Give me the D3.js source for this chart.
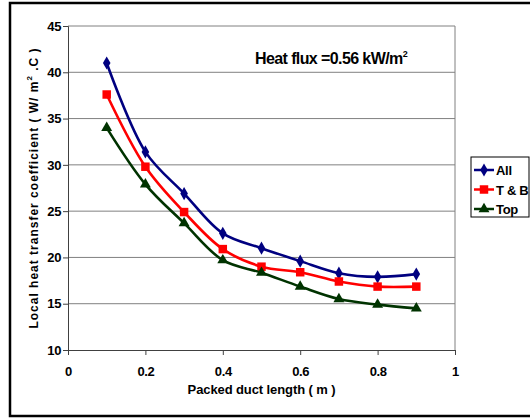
<!doctype html>
<html>
<head>
<meta charset="utf-8">
<title>Local heat transfer coefficient</title>
<script src="https://cdn.jsdelivr.net/npm/d3@7"></script>
<style>
  html, body { margin: 0; padding: 0; background: #fff; }
  svg { display: block; font-family: "Liberation Sans", Arial, sans-serif; font-weight: bold; }
</style>
</head>
<body>
<div id="chart"></div>
<script>
// data
var lengths = [0.1, 0.2, 0.3, 0.4, 0.5, 0.6, 0.7, 0.8, 0.9]
var allValues = [41.0, 31.4, 26.9, 22.6, 21.0, 19.6, 18.3, 17.9, 18.2]
var tbValues = [37.6, 29.8, 24.9, 20.9, 19.0, 18.4, 17.4, 16.85, 16.85]
var topValues = [34.0, 27.9, 23.7, 19.7, 18.35, 16.85, 15.5, 14.9, 14.5]
var xTicks = [0, 0.2, 0.4, 0.6, 0.8, 1]
var yTicks = [10, 15, 20, 25, 30, 35, 40, 45]

var series = [
  { name: "All", values: allValues, color: "#000080", symbol: d3.symbolDiamond, size: 50 },
  { name: "T & B", values: tbValues, color: "#ff0000", symbol: d3.symbolSquare, size: 72 },
  { name: "Top", values: topValues, color: "#003300", symbol: d3.symbolTriangle, size: 52 }
]

var W = 530, H = 419
var svg = d3.select("#chart").append("svg").attr("width", W).attr("height", H)

// outer frame
svg.append("rect")
  .attr("x", 10).attr("y", 3).attr("width", 530).attr("height", 413)
  .attr("fill", "none").attr("stroke", "#000").attr("stroke-width", 2.5)

var plotL = 68, plotR = 455, plotT = 26, plotB = 350
var x = d3.scaleLinear().domain([0, 1]).range([plotL, plotR])
var y = d3.scaleLinear().domain([10, 45]).range([plotB, plotT])

// grid
svg.append("g").selectAll("line").data(yTicks.slice(1)).join("line")
  .attr("x1", plotL).attr("x2", plotR)
  .attr("y1", d => y(d)).attr("y2", d => y(d))
  .attr("stroke", "#808080").attr("stroke-width", 1)
svg.append("line")
  .attr("x1", plotR).attr("x2", plotR).attr("y1", plotT).attr("y2", plotB)
  .attr("stroke", "#808080")

// axes
var xAxis = svg.append("g").attr("transform", "translate(0," + plotB + ")")
  .call(d3.axisBottom(x).tickValues(xTicks).tickSize(5).tickPadding(12).tickFormat(d3.format("")))
var yAxis = svg.append("g").attr("transform", "translate(" + plotL + ",0)")
  .call(d3.axisLeft(y).tickValues(yTicks).tickSize(5).tickPadding(2))
;[xAxis, yAxis].forEach(function (a) {
  a.select(".domain").attr("stroke", "#404040")
  a.selectAll(".tick line").attr("stroke", "#404040")
  a.selectAll("text").attr("font-size", 13).attr("font-weight", "bold")
    .attr("letter-spacing", -0.4)
    .attr("font-family", "Liberation Sans, Arial, sans-serif").attr("fill", "#000")
})

// lines + markers
var line = d3.line().x((d, i) => x(lengths[i])).y(d => y(d)).curve(d3.curveCatmullRom.alpha(0.5))
series.forEach(function (s) {
  svg.append("path").datum(s.values)
    .attr("d", line).attr("fill", "none")
    .attr("stroke", s.color).attr("stroke-width", 2.6)
  svg.append("g").selectAll("path").data(s.values).join("path")
    .attr("transform", (d, i) => "translate(" + x(lengths[i]) + "," + y(d) + ")")
    .attr("d", d3.symbol().type(s.symbol).size(s.size))
    .attr("fill", s.color)
})

// annotation
var note = svg.append("text").attr("x", 255).attr("y", 64).attr("font-size", 16)
  .attr("letter-spacing", -0.6)
note.append("tspan").text("Heat flux =0.56 kW/m")
note.append("tspan").attr("dy", -7).attr("font-size", 9).text("2")

// axis titles
svg.append("text").attr("x", (plotL + plotR) / 2).attr("y", 394)
  .attr("text-anchor", "middle").attr("font-size", 13)
  .attr("letter-spacing", -0.1)
  .text("Packed duct length ( m )")

var yt = svg.append("text")
  .attr("transform", "translate(38," + ((plotT + plotB) / 2) + ") rotate(-90)")
  .attr("text-anchor", "middle").attr("font-size", 12).attr("letter-spacing", 1)
yt.append("tspan").text("Local heat transfer coefficient ( W/ m")
yt.append("tspan").attr("dy", -6).attr("font-size", 8).text("2")
yt.append("tspan").attr("dy", 6).text(" .C )")

// legend
var lg = svg.append("g").attr("transform", "translate(471,157)")
lg.append("rect").attr("width", 58).attr("height", 60)
  .attr("fill", "#fff").attr("stroke", "#000").attr("stroke-width", 1)
series.forEach(function (s, i) {
  var cy = 13 + i * 19.5
  lg.append("line").attr("x1", 3).attr("x2", 23).attr("y1", cy).attr("y2", cy)
    .attr("stroke", s.color).attr("stroke-width", 2.5)
  lg.append("path").attr("transform", "translate(13," + cy + ")")
    .attr("d", d3.symbol().type(s.symbol).size(s.size)).attr("fill", s.color)
  lg.append("text").attr("x", 25).attr("y", cy + 5).attr("font-size", 13)
    .attr("letter-spacing", -0.3).text(s.name)
})
</script>
</body>
</html>
